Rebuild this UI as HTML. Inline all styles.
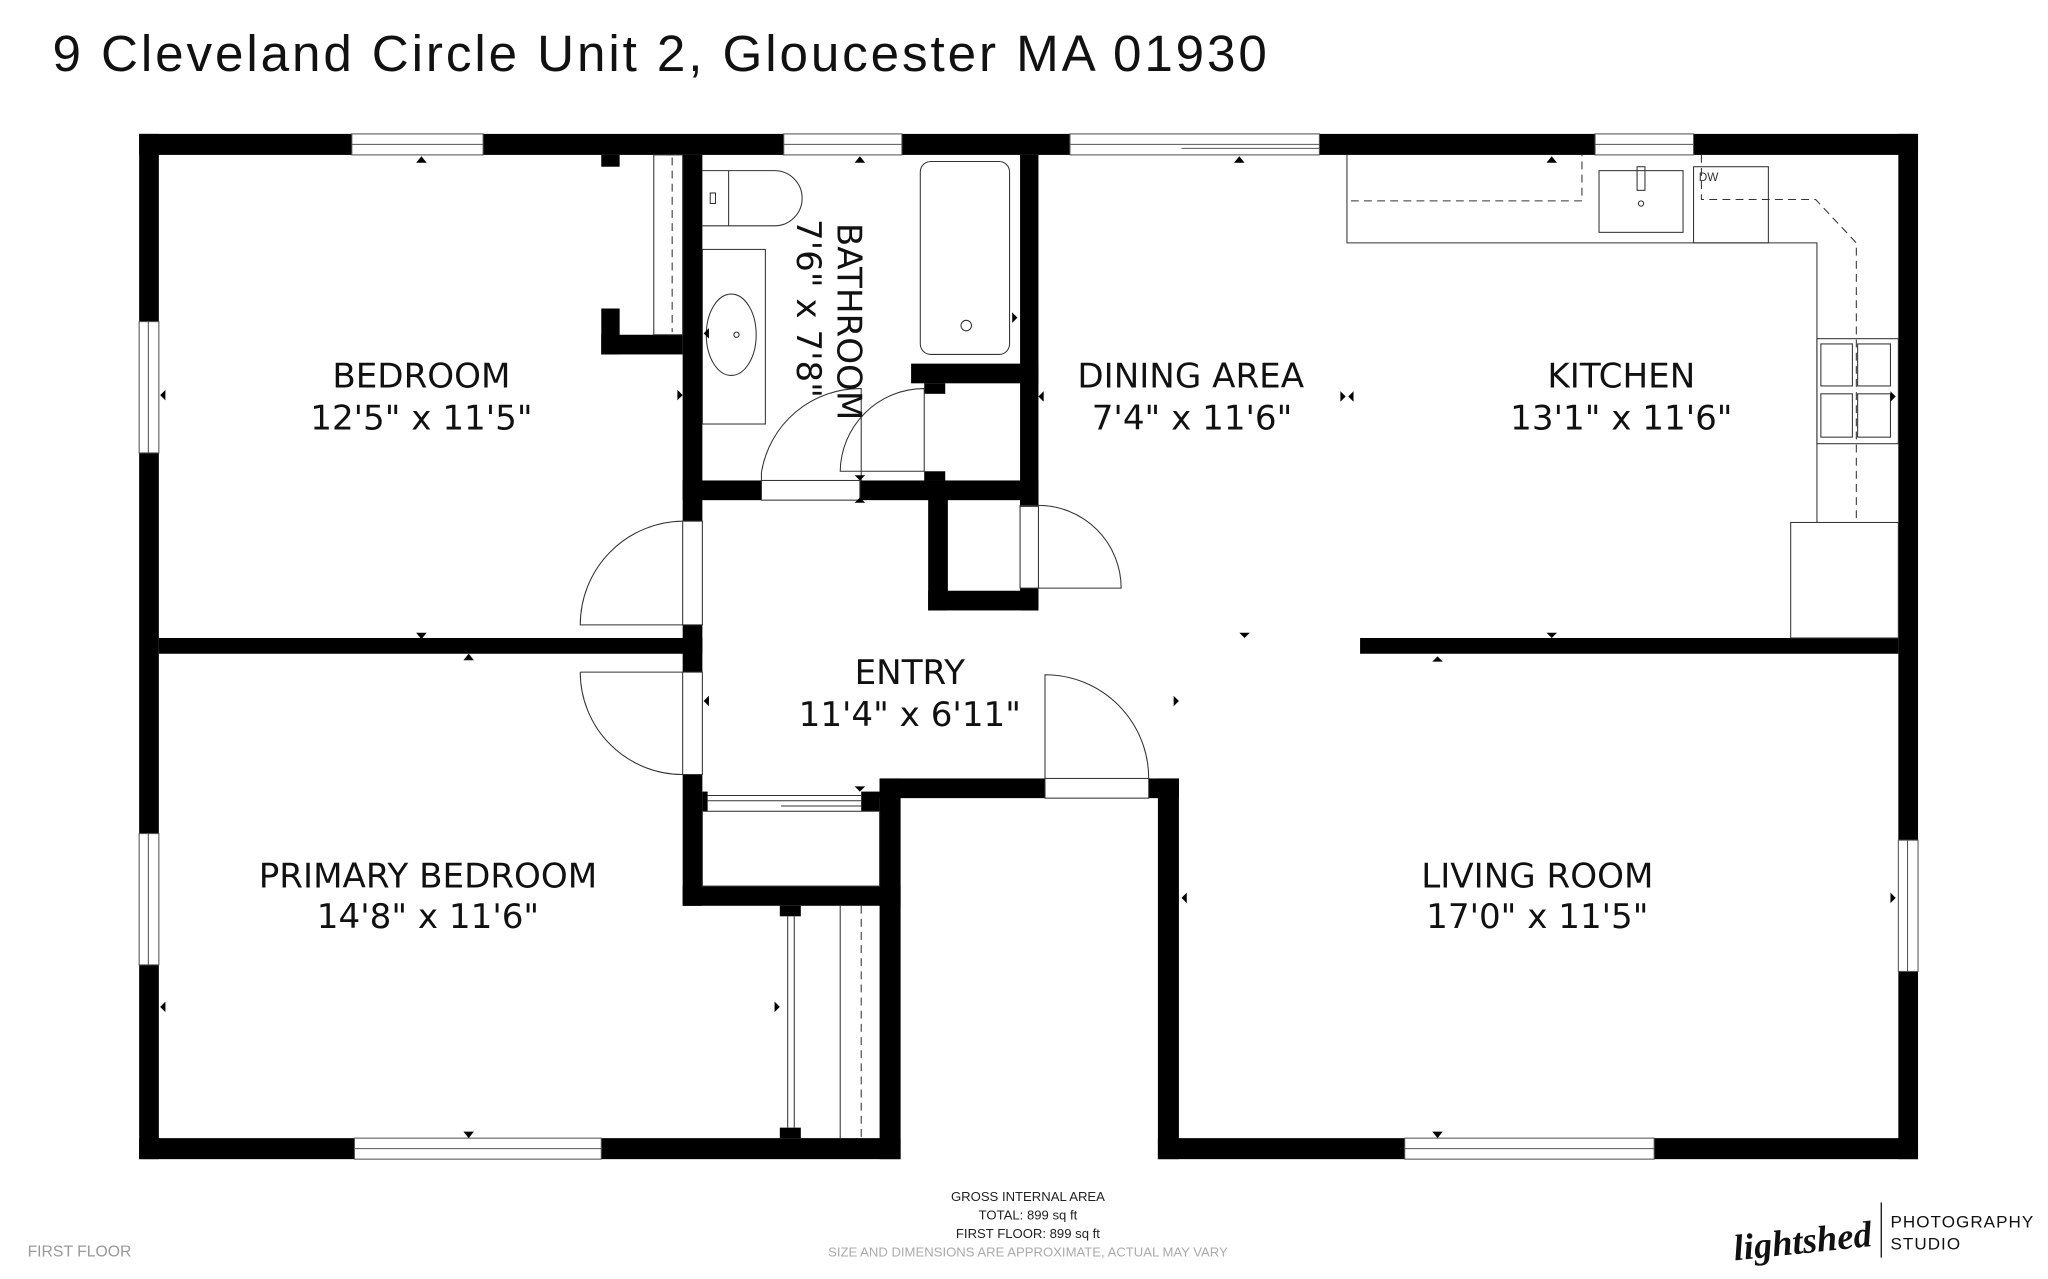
<!DOCTYPE html>
<html><head><meta charset="utf-8"><style>
html,body{margin:0;padding:0;background:#fff;}
svg{display:block;}
.l{font-family:"DejaVu Sans","Liberation Sans",sans-serif;font-size:26px;fill:#111;text-anchor:middle;}
.s{font-family:"Liberation Sans",sans-serif;font-size:10px;fill:#222;text-anchor:middle;}
</style></head><body>
<svg width="2048" height="1279" viewBox="0 0 1560 974.3" preserveAspectRatio="none" xmlns="http://www.w3.org/2000/svg">
<rect width="1560" height="975" fill="#fff"/>
<text x="40" y="54" font-family="Liberation Sans, sans-serif" font-size="39" fill="#111" textLength="925">9 Cleveland Circle Unit 2, Gloucester MA 01930</text>
<g fill="#000">
<rect x="106" y="102" width="1355" height="16"/>
<rect x="106" y="102" width="15" height="781"/>
<rect x="1446" y="102" width="15" height="781"/>
<rect x="106" y="867" width="580" height="16"/>
<rect x="882" y="867" width="579" height="16"/>
<rect x="670" y="593" width="16" height="290"/>
<rect x="670" y="593" width="126" height="15"/>
<rect x="875" y="593" width="23" height="15"/>
<rect x="882" y="593" width="16" height="290"/>
<rect x="520" y="118" width="15" height="279"/>
<rect x="520" y="476" width="15" height="36"/>
<rect x="520" y="590" width="15" height="100"/>
<rect x="121" y="486" width="414" height="12"/>
<rect x="520" y="675" width="166" height="15"/>
<rect x="535" y="603" width="4" height="15"/>
<rect x="656" y="603" width="14" height="15"/>
<rect x="594" y="690" width="16" height="8"/>
<rect x="594" y="859" width="16" height="8"/>
<rect x="458" y="118" width="14" height="9"/>
<rect x="458" y="235" width="14" height="35"/>
<rect x="458" y="255" width="62" height="15"/>
<rect x="520" y="366" width="60" height="15"/>
<rect x="655" y="366" width="136" height="15"/>
<rect x="777" y="118" width="14" height="268"/>
<rect x="694" y="277" width="97" height="15"/>
<rect x="704" y="292" width="16" height="8"/>
<rect x="704" y="359" width="16" height="7"/>
<rect x="707" y="366" width="15" height="99"/>
<rect x="707" y="450" width="84" height="15"/>
<rect x="777" y="366" width="14" height="19"/>
<rect x="777" y="448" width="14" height="17"/>
<rect x="1036" y="486" width="410" height="12"/>
</g>
<g fill="#fff" stroke="#555" stroke-width="0.8">
<rect x="268" y="102" width="100" height="16"/><line x1="268" y1="110" x2="368" y2="110"/>
<rect x="597" y="102" width="90" height="16"/><line x1="597" y1="110" x2="687" y2="110"/>
<rect x="815" y="102" width="190" height="16"/><line x1="815" y1="110" x2="1005" y2="110"/><line x1="900" y1="113" x2="1005" y2="113"/>
<rect x="1215" y="102" width="75" height="16"/><line x1="1215" y1="110" x2="1290" y2="110"/>
<rect x="106" y="245" width="15" height="100"/><line x1="113" y1="245" x2="113" y2="345"/>
<rect x="106" y="635" width="15" height="100"/><line x1="113" y1="635" x2="113" y2="735"/>
<rect x="1446" y="640" width="15" height="100"/><line x1="1453" y1="640" x2="1453" y2="740"/>
<rect x="270" y="867" width="188" height="16"/><line x1="270" y1="875" x2="458" y2="875"/>
<rect x="1070" y="867" width="190" height="16"/><line x1="1070" y1="875" x2="1260" y2="875"/>
</g>
<g fill="none" stroke="#333" stroke-width="0.8">
<rect x="498" y="118" width="22" height="137"/><line x1="512" y1="120" x2="512" y2="253" stroke-dasharray="6,4"/>
<path d="M535 130 H590 A18 18 0 0 1 590 172 H535"/><line x1="555" y1="130" x2="555" y2="172"/><rect x="541" y="147" width="4" height="8"/>
<rect x="535" y="190" width="48" height="133"/><ellipse cx="557" cy="255" rx="19" ry="31"/><circle cx="561" cy="255" r="2"/>
<rect x="701" y="123" width="68" height="147" rx="8"/><circle cx="736" cy="248" r="4"/>
<path d="M580 366 V360 A76 76 0 0 1 656 296 V366"/>
<path d="M640 359 A64 64 0 0 1 704 296 V359 Z"/>
<rect x="580" y="366" width="75" height="15"/>
<path d="M520 397 A79 79 0 0 0 442 476 H520"/>
<path d="M442 512 A78 78 0 0 0 520 590"/><line x1="442" y1="512" x2="520" y2="512"/><rect x="520" y="512" width="15" height="78"/><rect x="520" y="397" width="15" height="79"/>
<path d="M791 385 A63 63 0 0 1 854 448 H791"/><rect x="777" y="385" width="14" height="63"/>
<path d="M796 593 V514 A79 79 0 0 1 875 593"/><rect x="796" y="593" width="79" height="15"/>
<line x1="539" y1="606" x2="656" y2="606"/><line x1="539" y1="610" x2="656" y2="610"/><line x1="595" y1="614" x2="656" y2="614"/>
<rect x="535" y="618" width="135" height="57"/>
<line x1="600" y1="698" x2="600" y2="859"/><line x1="605" y1="698" x2="605" y2="859"/><line x1="640" y1="690" x2="640" y2="867"/><line x1="656" y1="690" x2="656" y2="867" stroke-dasharray="6,4"/>
<path d="M1026 118 V185 H1384 V398"/><path d="M1029 153 H1205 V118" stroke-dasharray="6,4"/>
<path d="M1296 118 V152 H1383 L1414 185 V398" stroke-dasharray="6,4"/>
<rect x="1218" y="130" width="64" height="47"/><rect x="1247" y="127" width="6" height="18"/><circle cx="1250" cy="155" r="2"/>
<rect x="1290" y="127" width="57" height="58"/>
<rect x="1384" y="258" width="62" height="80"/>
<rect x="1387" y="262" width="24" height="32"/><rect x="1415" y="262" width="25" height="32"/><rect x="1387" y="300" width="24" height="33"/><rect x="1415" y="300" width="25" height="33"/>
<rect x="1364" y="398" width="82" height="88"/>
</g>
<text x="1294" y="138" font-family="Liberation Sans, sans-serif" font-size="9" fill="#333">DW</text>
<g fill="#000">
<path d="M317 124 l4 -5 l4 5z"/><path d="M651 124 l4 -5 l4 5z"/><path d="M940 124 l4 -5 l4 5z"/><path d="M1178 124 l4 -5 l4 5z"/>
<path d="M317 482 l4 5 l4 -5z"/><path d="M353 503 l4 -5 l4 5z"/><path d="M353 862 l4 5 l4 -5z"/><path d="M1091 862 l4 5 l4 -5z"/>
<path d="M126 297 l-4 4 l4 4z"/><path d="M516 297 l4 4 l-4 4z"/><path d="M126 763 l-4 4 l4 4z"/><path d="M590 763 l4 4 l-4 4z"/>
<path d="M944 482 l4 4 l4 -4z"/><path d="M1178 482 l4 4 l4 -4z"/><path d="M1091 504 l4 -4 l4 4z"/>
<path d="M651 383 l4 -4 l4 4z"/><path d="M651 362 l4 4 l4 -4z"/><path d="M651 599 l4 4 l4 -4z"/>
<path d="M540 530 l-4 4 l4 4z"/><path d="M894 530 l4 4 l-4 4z"/><path d="M904 680 l-4 4 l4 4z"/><path d="M1440 680 l4 4 l-4 4z"/>
<path d="M795 298 l-4 4 l4 4z"/><path d="M1440 298 l4 4 l-4 4z"/><path d="M771 238 l4 4 l-4 4z"/><path d="M540 250 l-4 4 l4 4z"/>
<path d="M1021 298 l4 4 l-4 4z M1031 298 l-4 4 l4 4z"/>
</g>
<text class="l" x="321" y="295">BEDROOM</text><text class="l" x="321" y="327">12'5" x 11'5"</text>
<text class="l" transform="translate(638,245) rotate(90)" x="0" y="0">BATHROOM</text>
<text class="l" transform="translate(607,235) rotate(90)" x="0" y="0">7'6" x 7'8"</text>
<text class="l" x="907" y="295">DINING AREA</text><text class="l" x="908" y="327">7'4" x 11'6"</text>
<text class="l" x="1235" y="295">KITCHEN</text><text class="l" x="1235" y="327">13'1" x 11'6"</text>
<text class="l" x="693" y="521">ENTRY</text><text class="l" x="693" y="553">11'4" x 6'11"</text>
<text class="l" x="326" y="676">PRIMARY BEDROOM</text><text class="l" x="326" y="707">14'8" x 11'6"</text>
<text class="l" x="1171" y="676">LIVING ROOM</text><text class="l" x="1171" y="707">17'0" x 11'5"</text>
<text class="s" x="783" y="915">GROSS INTERNAL AREA</text>
<text class="s" x="783" y="929">TOTAL: 899 sq ft</text>
<text class="s" x="783" y="943">FIRST FLOOR: 899 sq ft</text>
<text class="s" x="783" y="957" style="fill:#aaa">SIZE AND DIMENSIONS ARE APPROXIMATE, ACTUAL MAY VARY</text>
<text x="21" y="957" font-family="Liberation Sans, sans-serif" font-size="12" fill="#999">FIRST FLOOR</text>
<text x="1320" y="955" font-family="Liberation Serif, serif" font-style="italic" font-weight="bold" font-size="28" fill="#111" transform="rotate(-6 1370 945)">lightshed</text>
<line x1="1433" y1="916" x2="1433" y2="958" stroke="#111" stroke-width="1"/>
<text x="1440" y="935" font-family="Liberation Sans, sans-serif" font-size="13" fill="#111" letter-spacing="0.8">PHOTOGRAPHY</text>
<text x="1440" y="952" font-family="Liberation Sans, sans-serif" font-size="13" fill="#111" letter-spacing="0.8">STUDIO</text>
</svg>
</body></html>
